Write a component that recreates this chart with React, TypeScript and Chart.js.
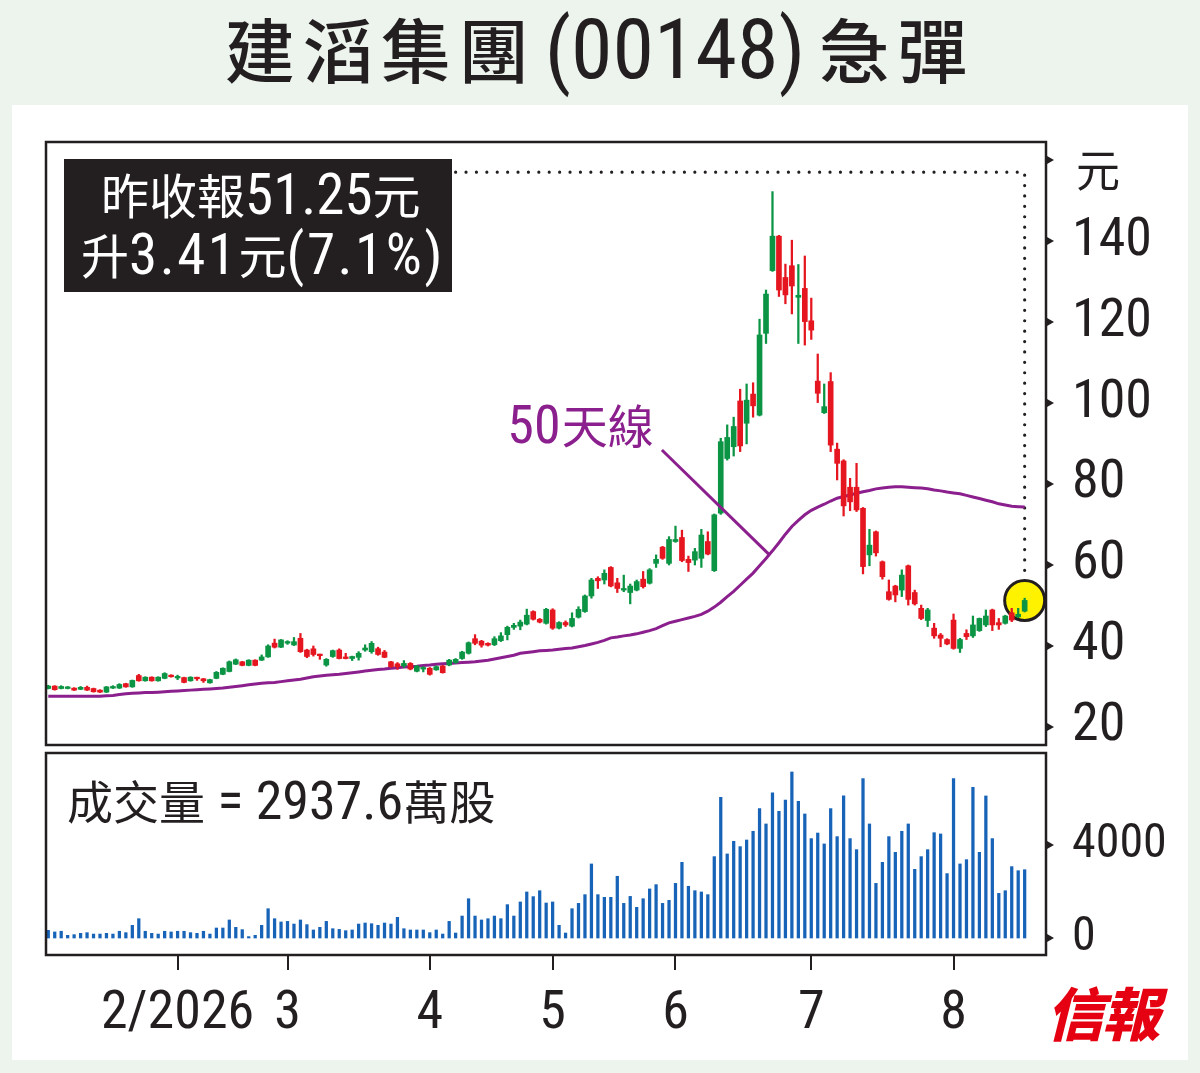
import React, { useEffect, useRef } from "react";
import { Chart, registerables } from "chart.js";

Chart.register(...registerables);

// ---------------- data ----------------
const opens = [
  29.5, 30.1, 29.5, 29.5, 29.6, 29.3, 29.8, 29.5, 29.1, 28.6,
  29.6, 29.6, 30.7, 29.9, 32.7, 31.4, 32.3, 31.4, 32.0, 32.8,
  32.1, 32.2, 31.4, 32.2, 31.9, 30.9, 32.0, 33.0, 33.7, 35.5,
  36.1, 35.2, 36.5, 36.5, 37.3, 40.7, 39.7, 40.7, 40.25, 41.9,
  39.0, 39.3, 37.95, 35.3, 37.4, 39.0, 37.2, 36.9, 37.2, 39.0,
  38.6, 39.34, 38.5, 36.1, 35.6, 35.1, 35.7, 33.75, 34.3, 34.5,
  34.1, 35.06, 35.3, 35.9, 36.9, 38.2, 41.8, 41.2, 40.66, 40.3,
  41.3, 42.8, 44.6, 44.9, 45.4, 48.5, 46.6, 45.6, 48.9, 44.4,
  45.8, 44.9, 47.1, 48.5, 52.35, 56.7, 56.3, 59.4, 55.6, 53.8,
  53.2, 53.8, 56.5, 55.5, 60.4, 64.4, 60.4, 65.8, 66.8, 61.4,
  61.2, 61.65, 65.8, 58.6, 72.8, 86.3, 89.2, 100.5, 95.0, 102.2,
  97.0, 117.2, 132.7, 141.2, 131.0, 133.9, 126.1, 128.3, 120.3, 105.4,
  97.6, 105.3, 88.6, 85.7, 79.2, 79.2, 74.0, 62.5, 68.2, 60.8,
  53.4, 54.8, 53.8, 59.8, 53.2, 49.3, 46.3, 44.4, 42.7, 41.6,
  46.4, 39.4, 43.1, 42.5, 43.8, 45.2, 48.9, 45.76, 45.6, 48.2,
  47.2, 48.6,
];
const highs = [
  30.3, 30.2, 30.2, 30.0, 29.7, 30.0, 30.1, 29.6, 29.2, 30.0,
  30.2, 30.7, 30.8, 31.6, 33.0, 32.4, 32.4, 32.4, 33.4, 32.9,
  32.8, 32.3, 32.4, 32.3, 32.0, 31.8, 33.7, 34.6, 36.3, 36.8,
  36.2, 36.6, 36.6, 37.8, 40.3, 41.7, 41.6, 41.3, 42.1, 43.1,
  39.2, 40.0, 38.0, 36.9, 39.0, 39.3, 38.2, 37.5, 38.6, 40.3,
  41.1, 39.7, 38.9, 36.2, 35.9, 36.4, 35.9, 35.2, 34.9, 34.7,
  35.1, 35.2, 36.7, 36.9, 38.7, 41.0, 42.8, 41.4, 40.8, 42.3,
  43.3, 44.9, 45.6, 46.4, 49.1, 48.7, 46.8, 49.3, 49.2, 46.0,
  46.2, 48.2, 49.7, 52.6, 56.7, 57.1, 58.8, 59.6, 56.7, 57.5,
  55.3, 56.3, 58.4, 59.1, 62.5, 64.6, 67.0, 69.6, 68.6, 62.2,
  64.1, 68.8, 68.2, 72.6, 91.3, 94.6, 96.5, 103.4, 104.7, 105.0,
  120.7, 127.9, 152.2, 141.4, 134.3, 140.2, 134.2, 136.3, 125.9, 112.1,
  104.7, 107.5, 90.1, 86.0, 81.4, 85.1, 74.2, 68.8, 68.4, 61.0,
  56.3, 55.0, 58.8, 60.0, 53.8, 50.1, 49.3, 45.6, 43.1, 41.8,
  47.9, 41.9, 44.0, 47.4, 46.9, 48.9, 49.1, 46.8, 47.6, 49.3,
  49.3, 51.8,
];
const lows = [
  29.4, 29.1, 29.4, 29.4, 29.0, 29.2, 29.0, 28.6, 28.5, 28.5,
  29.5, 29.5, 29.8, 29.8, 31.3, 31.3, 31.3, 31.3, 31.9, 32.3,
  31.7, 30.9, 31.3, 31.5, 31.0, 30.8, 31.9, 32.9, 33.6, 35.4,
  35.1, 35.1, 35.1, 36.4, 37.2, 39.5, 39.6, 40.4, 40.1, 38.4,
  37.1, 37.5, 36.7, 35.0, 37.2, 36.8, 36.8, 36.4, 36.5, 38.7,
  38.2, 37.7, 37.1, 34.7, 34.2, 34.7, 34.1, 33.6, 33.6, 32.8,
  34.0, 33.3, 35.1, 35.7, 36.7, 38.0, 40.3, 39.7, 40.0, 40.1,
  41.1, 41.5, 44.1, 44.0, 45.2, 46.4, 45.7, 45.4, 44.1, 44.2,
  44.8, 44.7, 46.9, 48.3, 51.8, 54.2, 55.3, 54.6, 53.2, 53.4,
  50.4, 53.6, 54.3, 55.3, 59.4, 61.4, 60.0, 65.6, 60.8, 58.4,
  60.0, 59.4, 62.5, 58.4, 72.5, 85.9, 86.9, 88.0, 89.9, 96.5,
  96.8, 114.7, 132.5, 126.3, 124.5, 122.0, 114.7, 114.3, 115.7, 100.1,
  97.4, 88.0, 81.0, 72.1, 73.4, 73.2, 57.8, 59.8, 62.2, 56.5,
  51.3, 50.9, 52.2, 50.1, 50.1, 46.5, 44.8, 41.9, 39.8, 40.3,
  39.2, 38.4, 41.6, 42.1, 43.6, 44.8, 43.8, 44.1, 45.4, 46.0,
  47.0, 48.4,
];
const closes = [
  30.1, 29.2, 30.0, 29.8, 29.1, 29.8, 29.1, 28.7, 28.6, 29.9,
  30.0, 30.5, 29.9, 31.5, 31.4, 32.3, 31.4, 32.3, 33.2, 32.4,
  32.3, 31.0, 32.3, 31.9, 31.4, 31.7, 33.5, 34.5, 36.1, 36.6,
  35.2, 36.5, 35.2, 37.3, 40.0, 39.7, 41.5, 40.9, 41.07, 38.6,
  37.4, 37.9, 37.6, 36.7, 38.85, 36.9, 36.9, 37.4, 38.2, 39.5,
  40.66, 37.9, 37.2, 34.9, 34.9, 35.7, 34.3, 35.06, 34.5, 33.0,
  34.9, 33.4, 36.5, 36.7, 38.5, 40.8, 40.66, 40.2, 40.2, 41.8,
  42.5, 44.6, 45.1, 45.9, 47.6, 46.6, 45.9, 49.06, 44.4, 45.8,
  45.2, 46.8, 49.06, 52.35, 56.3, 56.1, 57.95, 54.8, 54.2, 54.2,
  54.8, 55.9, 54.65, 58.8, 61.4, 61.65, 66.3, 66.3, 61.1, 60.6,
  63.3, 67.4, 62.7, 72.4, 90.45, 91.5, 94.2, 89.4, 100.7, 99.3,
  116.8, 126.9, 141.2, 127.9, 126.7, 128.9, 126.6, 120.1, 118.0, 102.4,
  99.1, 89.6, 85.1, 74.6, 75.6, 73.6, 59.6, 64.9, 63.0, 57.1,
  51.5, 52.6, 57.5, 51.5, 50.4, 46.8, 48.9, 42.5, 41.9, 40.5,
  39.4, 41.6, 42.3, 45.2, 46.8, 47.4, 45.2, 45.2, 47.4, 46.4,
  47.84, 51.25,
];
const ma50 = [
  27.6, 27.6, 27.6, 27.6, 27.6, 27.6, 27.6, 27.6, 27.6, 27.7,
  27.8, 28.0, 28.2, 28.3, 28.4, 28.5, 28.5, 28.6, 28.7, 28.8,
  28.9, 29.0, 29.1, 29.2, 29.3, 29.4, 29.5, 29.6, 29.8, 30.0,
  30.2, 30.4, 30.6, 30.8, 30.9, 31.0, 31.2, 31.4, 31.6, 31.8,
  32.1, 32.4, 32.6, 32.8, 32.9, 33.0, 33.2, 33.4, 33.6, 33.8,
  34.0, 34.2, 34.3, 34.5, 34.6, 34.8, 34.9, 35.0, 35.2, 35.3,
  35.5, 35.6, 35.7, 35.8, 35.9, 36.0, 36.1, 36.3, 36.5, 36.8,
  37.1, 37.4, 37.7, 38.2, 38.4, 38.6, 38.8, 38.9, 39.0, 39.2,
  39.4, 39.5, 39.8, 40.1, 40.5, 40.9, 41.4, 42.0, 42.2, 42.5,
  42.7, 43.0, 43.4, 43.8, 44.3, 45.0, 45.7, 46.1, 46.5, 46.9,
  47.3, 47.8, 48.6, 49.6, 50.8, 52.2, 53.5, 55.0, 56.5, 58.0,
  59.8, 61.6, 63.5, 65.5, 67.6, 69.5, 71.0, 72.4, 73.5, 74.3,
  75.0, 75.8, 76.5, 76.9, 77.3, 77.7, 78.1, 78.4, 78.8, 79.0,
  79.2, 79.3, 79.3, 79.2, 79.1, 79.0, 78.8, 78.5, 78.3, 78.0,
  77.8, 77.6, 77.2, 76.8, 76.4, 76.0, 75.6, 75.1, 74.8, 74.5,
  74.4, 74.3,
];
// volume in 萬股
const volumes = [
  330, 260, 290, 115, 145, 200, 230, 170, 170, 200,
  170, 290, 230, 545, 830, 290, 200, 170, 290, 260,
  290, 290, 230, 200, 290, 170, 430, 430, 775, 460,
  360, 60, 115, 545, 1260, 830, 690, 715, 600, 775,
  575, 345, 460, 715, 400, 370, 315, 345, 600, 645,
  615, 545, 645, 600, 890, 400, 345, 345, 345, 230,
  345, 170, 715, 215, 945, 1690, 945, 775, 830, 945,
  830, 1435, 945, 1550, 1980, 1780, 2035, 1505, 1550, 545,
  215, 1260, 1490, 1865, 3185, 1865, 1750, 1750, 2655, 1490,
  1790, 1320, 1690, 2110, 2295, 1490, 1620, 2350, 3255, 2225,
  2035, 1980, 1865, 3500, 6050, 3615, 4160, 3930, 4215, 4590,
  5565, 4905, 6240, 5450, 5935, 7140, 5880, 5335, 4275, 4515,
  4045, 5565, 4360, 6110, 4275, 3800, 6855, 4905, 2350, 3255,
  4360, 3685, 4590, 4905, 2955, 3500, 3800, 4530, 4475, 2770,
  6855, 3185, 3370, 6480, 3685, 6110, 4275, 1920, 2035, 3070,
  2895, 2938,
];
const monthStartIdx = [20, 37, 59, 78, 97, 118, 140];
const monthLabels = ["2/2026", "3", "4", "5", "6", "7", "8"];
const priceTicks = [20, 40, 60, 80, 100, 120, 140];
const priceMarks = [20, 40, 60, 80, 100, 120, 140, 160];
const volumeTicks = [0, 4000];

// ---------------- styles ----------------
const LATIN = "'Roboto Condensed', 'Open Sans Condensed', 'DejaVu Sans Condensed', sans-serif";
const CJKF = "'Noto Sans CJK TC', 'Noto Sans CJK SC', sans-serif";
const AXIS_SIZE = 54;
const VOL_AXIS_SIZE = 48;
const INK = "#231f20";
const BG = "#edf4ee";
const UP = "#0b9444";
const DOWN = "#e5161f";
const MA_COL = "#8b1f8d";
const VOL_COL = "#1763b8";

const LAST = closes.length - 1;
const X_MIN = -0.35;
const X_MAX = 154.3;
const idx = closes.map((_, i) => i);
const candleColors = idx.map((i) => (closes[i] >= opens[i] ? UP : DOWN));

function triangles(ctx: CanvasRenderingContext2D, x0: number, ys: number[]) {
  ctx.fillStyle = INK;
  for (const y of ys) {
    ctx.beginPath();
    ctx.moveTo(x0, y - 4);
    ctx.lineTo(x0 + 7, y);
    ctx.lineTo(x0, y + 4);
    ctx.closePath();
    ctx.fill();
  }
}

function noPad(s: any) {
  s.paddingTop = 0;
  s.paddingBottom = 0;
  s.paddingLeft = 0;
  s.paddingRight = 0;
}

const priceOverlay = {
  id: "priceOverlay",
  beforeDatasetsDraw(chart: any) {
    const { ctx, scales } = chart;
    const xs = scales.x;
    const ys = scales.y;
    const cx = xs.getPixelForValue(LAST);
    const cy = ys.getPixelForValue(closes[LAST]);
    const ly = ys.getPixelForValue(157);
    const sx = xs.getPixelForValue(63);
    const r = 20;
    ctx.save();
    ctx.strokeStyle = INK;
    ctx.lineWidth = 3.2;
    ctx.lineCap = "round";
    ctx.setLineDash([0, 10.4]);
    ctx.beginPath();
    ctx.moveTo(sx, ly);
    ctx.lineTo(cx, ly);
    ctx.lineTo(cx, cy - r - 4);
    ctx.stroke();
    ctx.setLineDash([]);
    ctx.beginPath();
    ctx.arc(cx, cy, r, 0, Math.PI * 2);
    ctx.fillStyle = "#fff200";
    ctx.fill();
    ctx.lineWidth = 3;
    ctx.stroke();
    ctx.restore();
  },
  afterDraw(chart: any) {
    const { ctx, chartArea: a, scales } = chart;
    const xs = scales.x;
    const ys = scales.y;
    ctx.save();
    ctx.strokeStyle = INK;
    ctx.lineWidth = 2.5;
    ctx.strokeRect(a.left, a.top, a.right - a.left, a.bottom - a.top);
    triangles(ctx, a.right + 1, priceMarks.map((v) => ys.getPixelForValue(v)));
    ctx.fillStyle = INK;
    ctx.font = `44px ${CJKF}`;
    ctx.textAlign = "left";
    ctx.textBaseline = "middle";
    ctx.fillText("元", a.right + 30, ys.getPixelForValue(157.5));
    const tx = xs.getPixelForValue(71);
    const ty = ys.getPixelForValue(90.1);
    ctx.fillStyle = MA_COL;
    ctx.textBaseline = "alphabetic";
    ctx.font = `${AXIS_SIZE}px ${LATIN}`;
    ctx.fillText("50", tx, ty);
    const w = ctx.measureText("50").width;
    ctx.font = `46px ${CJKF}`;
    ctx.fillText("天線", tx + w + 1, ty);
    ctx.strokeStyle = MA_COL;
    ctx.lineWidth = 3;
    ctx.beginPath();
    ctx.moveTo(xs.getPixelForValue(94.9), ys.getPixelForValue(88.4));
    ctx.lineTo(xs.getPixelForValue(111.5), ys.getPixelForValue((ma50[111] + ma50[112]) / 2));
    ctx.stroke();
    ctx.restore();
  },
};

const volumeOverlay = {
  id: "volumeOverlay",
  afterDraw(chart: any) {
    const { ctx, chartArea: a, scales } = chart;
    ctx.save();
    ctx.strokeStyle = INK;
    ctx.lineWidth = 2.5;
    ctx.strokeRect(a.left, a.top, a.right - a.left, a.bottom - a.top);
    triangles(ctx, a.right + 1, volumeTicks.map((v) => scales.y.getPixelForValue(v)));
    ctx.restore();
  },
};

function priceConfig(): any {
  return {
    type: "bar",
    data: {
      datasets: [
        {
          type: "bar",
          label: "body",
          data: idx.map((i) => ({ x: i, y: [opens[i], closes[i]] })),
          backgroundColor: candleColors,
          barThickness: 5,
          minBarLength: 1.6,
          grouped: false,
          order: 1,
        },
        {
          type: "bar",
          label: "wick",
          data: idx.map((i) => ({ x: i, y: [lows[i], highs[i]] })),
          backgroundColor: candleColors,
          barThickness: 1.6,
          grouped: false,
          order: 2,
        },
        {
          type: "line",
          label: "50天線",
          data: idx.map((i) => ({ x: i, y: ma50[i] })),
          borderColor: MA_COL,
          borderWidth: 3,
          pointRadius: 0,
          tension: 0,
          order: 3,
        },
      ],
    },
    options: {
      responsive: false,
      animation: false,
      layout: { padding: { left: 46, top: 22, right: 0, bottom: 20 } },
      plugins: { legend: { display: false }, tooltip: { enabled: false } },
      scales: {
        x: { type: "linear", min: X_MIN, max: X_MAX, offset: false, display: false },
        y: {
          type: "linear",
          position: "right",
          min: 15.55,
          max: 164.45,
          afterFit: (s: any) => {
            s.width = 154;
            noPad(s);
          },
          afterBuildTicks: (s: any) => {
            s.ticks = priceTicks.map((v) => ({ value: v }));
          },
          grid: { display: false, drawTicks: false },
          border: { display: false },
          ticks: {
            autoSkip: false,
            padding: 26,
            color: INK,
            font: { family: LATIN, size: AXIS_SIZE, lineHeight: 1 },
            callback: (v: any) => String(v),
          },
        },
      },
    },
    plugins: [priceOverlay],
  };
}

function volumeConfig(): any {
  return {
    type: "bar",
    data: {
      datasets: [
        {
          label: "成交量",
          data: idx.map((i) => ({ x: i, y: volumes[i] })),
          backgroundColor: VOL_COL,
          barThickness: 2.6,
          grouped: false,
        },
      ],
    },
    options: {
      responsive: false,
      animation: false,
      layout: { padding: { left: 46, top: 3, right: 0, bottom: 0 } },
      plugins: { legend: { display: false }, tooltip: { enabled: false } },
      scales: {
        x: {
          type: "linear",
          min: X_MIN,
          max: X_MAX,
          offset: false,
          afterFit: (s: any) => {
            s.height = 118;
            noPad(s);
          },
          afterBuildTicks: (s: any) => {
            s.ticks = monthStartIdx.map((v) => ({ value: v }));
          },
          grid: {
            display: true,
            offset: false,
            drawOnChartArea: false,
            drawTicks: true,
            tickLength: 15,
            color: INK,
            lineWidth: 2,
          },
          border: { display: false },
          ticks: {
            autoSkip: false,
            maxRotation: 0,
            padding: 12,
            color: INK,
            font: { family: LATIN, size: AXIS_SIZE },
            callback: (v: any) => {
              const k = monthStartIdx.indexOf(v);
              return k >= 0 ? monthLabels[k] : "";
            },
          },
        },
        y: {
          type: "linear",
          position: "right",
          min: -731,
          max: 7957,
          afterFit: (s: any) => {
            s.width = 154;
            noPad(s);
          },
          afterBuildTicks: (s: any) => {
            s.ticks = volumeTicks.map((v) => ({ value: v }));
          },
          grid: { display: false, drawTicks: false },
          border: { display: false },
          ticks: {
            autoSkip: false,
            padding: 26,
            color: INK,
            font: { family: LATIN, size: VOL_AXIS_SIZE, lineHeight: 1 },
            callback: (v: any) => String(v),
          },
        },
      },
    },
    plugins: [volumeOverlay],
  };
}

function Mixed(props: {
  text: string;
  cjk: number;
  latin: number;
  color: string;
  left: number;
  top: number;
  spacing?: number;
}) {
  const runs: { c: boolean; t: string }[] = [];
  for (const ch of props.text) {
    const isC = /[\u2E80-\u9FFF\uF900-\uFAFF]/.test(ch);
    const last = runs[runs.length - 1];
    if (last && last.c === isC) last.t += ch;
    else runs.push({ c: isC, t: ch });
  }
  return (
    <div
      style={{
        position: "absolute",
        left: props.left,
        top: props.top,
        display: "flex",
        alignItems: "baseline",
        whiteSpace: "pre",
        color: props.color,
      }}
    >
      {runs.map((r, i) => (
        <span
          key={i}
          style={{
            fontFamily: r.c ? CJKF : LATIN,
            fontSize: r.c ? props.cjk : props.latin,
            lineHeight: 1,
            letterSpacing: r.c ? 0 : props.spacing ?? 0,
          }}
        >
          {r.t}
        </span>
      ))}
    </div>
  );
}

export default function App() {
  const priceRef = useRef<HTMLCanvasElement>(null);
  const volRef = useRef<HTMLCanvasElement>(null);

  useEffect(() => {
    const pc = new Chart(priceRef.current as HTMLCanvasElement, priceConfig());
    const vc = new Chart(volRef.current as HTMLCanvasElement, volumeConfig());
    return () => {
      pc.destroy();
      vc.destroy();
    };
  }, []);

  return (
    <div
      style={{
        position: "absolute",
        left: 0,
        top: 0,
        width: 1200,
        height: 1073,
        background: BG,
        overflow: "hidden",
      }}
    >
      <div
        style={{
          position: "absolute",
          left: 0,
          top: 8,
          width: 1200,
          display: "flex",
          justifyContent: "center",
          alignItems: "baseline",
          color: INK,
          whiteSpace: "pre",
        }}
      >
        <span style={{ fontFamily: CJKF, fontSize: 70, lineHeight: 1, letterSpacing: 8, fontWeight: 500 }}>
          建滔集團
        </span>
        <span style={{ fontFamily: LATIN, fontSize: 84, lineHeight: 1, marginLeft: 8, marginRight: 14 }}>
          (00148)
        </span>
        <span style={{ fontFamily: CJKF, fontSize: 70, lineHeight: 1, letterSpacing: 8, fontWeight: 500 }}>
          急彈
        </span>
      </div>
      <div
        style={{
          position: "absolute",
          left: 12,
          top: 105,
          width: 1176,
          height: 955,
          background: "#ffffff",
        }}
      />
      <canvas
        ref={priceRef}
        width={1200}
        height={645}
        style={{ position: "absolute", left: 0, top: 120, width: 1200, height: 645 }}
      />
      <canvas
        ref={volRef}
        width={1200}
        height={323}
        style={{ position: "absolute", left: 0, top: 750, width: 1200, height: 323 }}
      />
      <div
        style={{
          position: "absolute",
          left: 64,
          top: 159,
          width: 388,
          height: 133,
          background: INK,
        }}
      />
      <Mixed text="昨收報51.25元" cjk={48} latin={57} color="#ffffff" left={101} top={166} />
      <Mixed text="升3.41元(7.1%)" cjk={48} latin={57} color="#ffffff" left={81} top={226} spacing={2.5} />
      <Mixed text="成交量 = 2937.6萬股" cjk={46} latin={AXIS_SIZE} color={INK} left={67} top={774} />
      <div
        style={{
          position: "absolute",
          left: 1046,
          top: 982,
          fontFamily: CJKF,
          fontSize: 58,
          fontWeight: 900,
          lineHeight: 1,
          letterSpacing: -2,
          color: "#e50012",
          fontStyle: "italic",
        }}
      >
        信報
      </div>
    </div>
  );
}
